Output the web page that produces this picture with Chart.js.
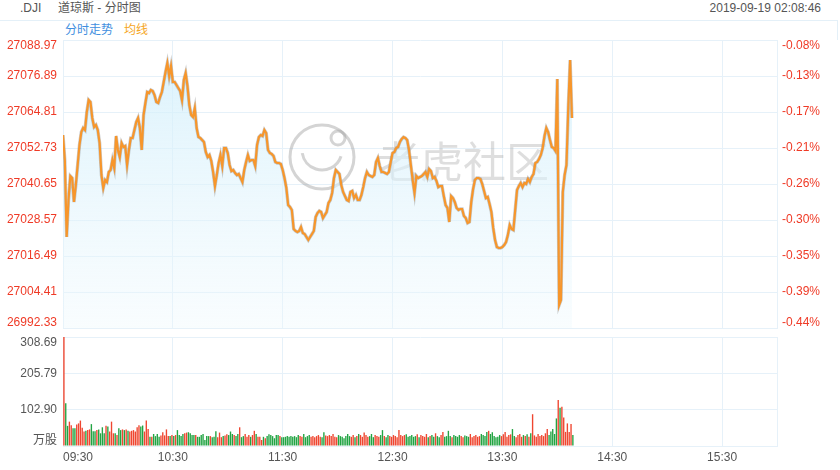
<!DOCTYPE html>
<html>
<head>
<meta charset="utf-8">
<title>.DJI 道琼斯 - 分时图</title>
<script src="https://cdn.jsdelivr.net/npm/chart.js@4.4.0/dist/chart.umd.min.js"></script>
<style>
  body { margin: 0; background: #fff; font-family: "Liberation Sans", Arial, "Noto Sans CJK SC", sans-serif; }
  #wrap { position: relative; width: 840px; height: 470px; overflow: hidden; }
  .t { position: absolute; font-size: 12px; line-height: 14px; color: #555; white-space: nowrap; }
  #legendBox { position: absolute; left: 0; top: 20px; width: 838px; height: 20px;
    border-top: 1px solid #e4f0f8; border-right: 1px solid #e4f0f8; box-sizing: border-box; }
  #priceBox { position: absolute; left: 0; top: 0; }
  #volBox { position: absolute; left: 0; top: 332px; }
</style>
</head>
<body>
<div id="wrap">
  <div class="t" style="left:20px;top:1px">.DJI</div>
  <div class="t" style="left:58px;top:1px">道琼斯 - 分时图</div>
  <div class="t" style="right:19px;top:1px">2019-09-19 02:08:46</div>
  <div id="legendBox"></div>
  <div class="t" style="left:65px;top:23px;color:#3f8fe0">分时走势</div>
  <div class="t" style="left:124px;top:23px;color:#f5a623">均线</div>
  <div id="priceBox"><canvas id="price" width="840" height="332"></canvas></div>
  <div id="volBox"><canvas id="vol" width="840" height="138"></canvas></div>
</div>
<script>
// minute-by-minute index level from 09:30
const prices = [
  27057.09, 27048.70, 27022.87, 27035.28, 27043.33, 27042.66, 27034.61, 27040.31, 27047.03, 27053.74,
  27058.10, 27059.44, 27058.77, 27064.81, 27068.84, 27068.17, 27062.80, 27059.78, 27060.45, 27058.77,
  27054.41, 27043.67, 27039.31, 27041.99, 27041.32, 27044.68, 27045.35, 27048.70, 27046.02, 27056.76,
  27052.06, 27049.71, 27054.41, 27053.07, 27053.40, 27047.03, 27052.06, 27056.09, 27056.09, 27058.77,
  27061.45, 27062.80, 27059.44, 27052.06, 27063.80, 27067.83, 27071.52, 27071.19, 27072.19, 27071.86,
  27070.51, 27068.17, 27067.83, 27069.84, 27071.52, 27074.88, 27078.23, 27081.25, 27076.89, 27080.25,
  27074.88, 27074.88, 27073.87, 27072.86, 27071.86, 27068.84, 27075.55, 27077.90, 27073.53, 27067.16,
  27063.80, 27063.13, 27066.15, 27059.44, 27056.42, 27056.09, 27055.41, 27054.74, 27051.39, 27049.71,
  27050.38, 27048.37, 27044.68, 27039.98, 27043.67, 27047.70, 27050.38, 27046.69, 27052.73, 27052.73,
  27051.05, 27047.03, 27045.01, 27045.35, 27044.34, 27043.67, 27044.01, 27042.66, 27041.32, 27045.35,
  27048.03, 27050.38, 27048.37, 27048.70, 27048.70, 27046.69, 27053.74, 27056.42, 27057.09, 27056.76,
  27058.77, 27057.76, 27052.06, 27051.05, 27050.72, 27050.05, 27048.03, 27047.70, 27047.70, 27047.36,
  27045.35, 27042.66, 27039.31, 27033.60, 27032.93, 27031.93, 27025.55, 27024.88, 27024.54, 27024.88,
  27026.22, 27024.21, 27023.87, 27022.87, 27021.86, 27022.87, 27023.87, 27024.88, 27029.58, 27030.92,
  27031.59, 27031.25, 27029.24, 27030.25, 27031.25, 27034.27, 27035.28, 27037.63, 27042.66, 27045.35,
  27044.68, 27044.01, 27040.31, 27037.97, 27036.62, 27035.28, 27034.95, 27037.97, 27038.30, 27035.95,
  27036.96, 27035.28, 27035.28, 27036.96, 27039.64, 27042.66, 27044.68, 27043.67, 27043.33, 27043.00,
  27043.67, 27048.03, 27049.37, 27046.69, 27044.68, 27044.68, 27044.34, 27044.01, 27044.68, 27048.03,
  27051.05, 27051.39, 27052.73, 27053.07, 27054.74, 27055.75, 27056.42, 27056.09, 27055.41, 27052.06,
  27047.03, 27041.99, 27037.63, 27043.33, 27042.66, 27043.00, 27043.33, 27044.01, 27044.68, 27043.00,
  27045.68, 27045.01, 27042.66, 27043.00, 27041.66, 27039.64, 27039.98, 27039.98, 27036.62, 27033.60,
  27032.60, 27027.90, 27036.62, 27035.95, 27034.61, 27032.60, 27031.93, 27032.26, 27032.26, 27029.91,
  27029.24, 27027.56, 27027.90, 27034.61, 27038.97, 27041.99, 27042.66, 27042.66, 27042.33, 27040.65,
  27038.30, 27035.95, 27036.29, 27033.94, 27031.25, 27025.89, 27021.86, 27019.51, 27019.17, 27019.17,
  27019.51, 27020.18, 27021.19, 27023.54, 27026.89, 27025.55, 27025.21, 27031.93, 27038.64, 27039.98,
  27040.99, 27039.64, 27040.99, 27040.65, 27042.33, 27041.32, 27043.00, 27044.01, 27047.70, 27048.03,
  27049.04, 27050.38, 27052.73, 27056.76, 27059.44, 27058.10, 27055.41, 27053.07, 27052.73, 27051.72,
  27075.88, 27000.05, 27001.73, 27037.97, 27043.67, 27047.03, 27066.49, 27082.26, 27062.80
];

// volume per minute, 万股
const volumes = [
  308.69, 121, 57, 69, 59, 50, 50, 61, 64, 72,
  52, 41, 43, 45, 47, 62, 42, 42, 45, 47,
  36, 53, 36, 57, 55, 41, 69, 36, 36, 31,
  50, 45, 47, 45, 47, 43, 41, 43, 45, 41,
  53, 59, 55, 58, 41, 72, 48, 26, 26, 34,
  28, 34, 26, 30, 39, 30, 47, 28, 28, 31,
  28, 31, 45, 31, 28, 34, 36, 38, 39, 36,
  31, 31, 31, 26, 26, 31, 34, 17, 28, 28,
  28, 25, 26, 42, 25, 38, 25, 28, 30, 33,
  31, 41, 34, 31, 28, 34, 53, 25, 28, 34,
  26, 31, 26, 31, 43, 34, 26, 26, 17, 26,
  22, 28, 33, 31, 28, 22, 31, 31, 28, 25,
  25, 26, 28, 26, 28, 26, 28, 25, 31, 28,
  26, 34, 25, 28, 31, 26, 28, 25, 28, 31,
  26, 25, 39, 30, 28, 31, 28, 34, 26, 25,
  31, 28, 26, 22, 28, 34, 28, 26, 31, 25,
  28, 34, 31, 26, 38, 31, 26, 28, 34, 25,
  31, 28, 26, 31, 45, 28, 25, 31, 28, 26,
  31, 28, 25, 45, 31, 28, 31, 33, 26, 28,
  31, 26, 28, 33, 25, 31, 28, 26, 34, 25,
  28, 31, 26, 36, 28, 25, 31, 40, 26, 28,
  43, 28, 25, 31, 28, 26, 31, 28, 25, 30,
  28, 26, 34, 25, 28, 31, 26, 28, 34, 31,
  28, 40, 43, 34, 39, 28, 25, 26, 31, 28,
  33, 40, 26, 31, 33, 48, 28, 25, 31, 34,
  26, 31, 28, 33, 26, 36, 90, 30, 26, 34,
  28, 31, 28, 36, 48, 31, 41, 48, 34, 78,
  130, 108, 111, 81, 40, 64, 40, 62, 31
];

const priceTicks = [26992.33, 27004.41, 27016.49, 27028.57, 27040.65, 27052.73, 27064.81, 27076.89, 27088.97];
const priceLabels = ['26992.33', '27004.41', '27016.49', '27028.57', '27040.65', '27052.73', '27064.81', '27076.89', '27088.97'];
const pctLabels = ['-0.44%', '-0.39%', '-0.35%', '-0.30%', '-0.26%', '-0.21%', '-0.17%', '-0.13%', '-0.08%'];
const volTicks = [0, 102.90, 205.79, 308.69];
const volLabels = ['万股', '102.90', '205.79', '308.69'];
const timeTicks = [0, 60, 120, 180, 240, 300, 360, 390];
const timeLabels = ['09:30', '10:30', '11:30', '12:30', '13:30', '14:30', '15:30', ''];

const GRID = '#e6f1f9';
const RED = '#ef3a26';
const FONT = '"Liberation Sans", Arial, "Noto Sans CJK SC", sans-serif';

// draws y tick labels, first/last pulled inside the plot
const sideLabels = {
  id: 'sideLabels',
  afterDraw(chart, args, opts) {
    const ctx = chart.ctx;
    ctx.save();
    ctx.font = '12px ' + FONT;
    ctx.textBaseline = 'middle';
    opts.items.forEach(it => {
      const sc = chart.scales[it.axis];
      ctx.fillStyle = it.color;
      it.values.forEach((v, i) => {
        let y = sc.getPixelForValue(v);
        if (i === 0) y -= 5;
        if (i === it.values.length - 1) y += 6;
        if (it.side === 'left') {
          ctx.textAlign = 'right';
          ctx.fillText(it.labels[i], sc.right - 6, y);
        } else {
          ctx.textAlign = 'left';
          ctx.fillText(it.labels[i], sc.left + 5, y);
        }
      });
    });
    ctx.restore();
  }
};

const watermark = {
  id: 'watermark',
  beforeDatasetsDraw(chart) {
    const ctx = chart.ctx;
    ctx.save();
    ctx.strokeStyle = 'rgba(160,160,160,0.45)';
    ctx.lineWidth = 3;
    ctx.beginPath();
    ctx.arc(322, 157, 32, 0, Math.PI * 2);
    ctx.stroke();
    ctx.beginPath();
    ctx.arc(322, 150, 20, 0.1 * Math.PI, 0.95 * Math.PI);
    ctx.stroke();
    ctx.beginPath();
    ctx.arc(338, 138, 7, 0, Math.PI * 2);
    ctx.stroke();
    ctx.fillStyle = 'rgba(160,160,160,0.35)';
    ctx.font = '43px "Noto Sans CJK SC", sans-serif';
    ctx.textBaseline = 'middle';
    ctx.textAlign = 'left';
    ctx.fillText('老虎社区', 377, 162);
    ctx.restore();
  }
};

const pricePts = prices.map((p, i) => ({ x: i, y: p }));
// each bar covers its own minute
const volPts = volumes.map((v, i) => ({ x: i + 0.5, y: v }));
const volColors = prices.map((p, i) => (i === 0 || p >= prices[i - 1]) ? '#ef4630' : '#22a443');

const fillGrad = (c) => {
  const ca = c.chart.chartArea;
  if (!ca) return 'rgba(220,242,251,0.6)';
  const g = c.chart.ctx.createLinearGradient(0, ca.top, 0, ca.bottom);
  g.addColorStop(0, 'rgba(208,238,251,0.8)');
  g.addColorStop(1, 'rgba(236,248,253,0.35)');
  return g;
};

const setTicks = (vals) => (scale) => { scale.ticks = vals.map(v => ({ value: v })); };

new Chart(document.getElementById('price'), {
  type: 'line',
  data: {
    datasets: [
      { data: pricePts, borderColor: '#f7962b', borderWidth: 2.2, pointRadius: 0, tension: 0, fill: false, order: 0 },
      { data: pricePts, borderColor: 'rgba(120,120,120,0.38)', borderWidth: 3.4, pointRadius: 0, tension: 0,
        fill: 'start', backgroundColor: fillGrad, order: 1 }
    ]
  },
  options: {
    responsive: false,
    animation: false,
    layout: { padding: { top: 40, bottom: 4, left: 0, right: 0 } },
    plugins: {
      legend: { display: false },
      tooltip: { enabled: false },
      sideLabels: {
        items: [
          { axis: 'y', values: priceTicks, labels: priceLabels, color: RED, side: 'left' },
          { axis: 'y2', values: priceTicks, labels: pctLabels, color: RED, side: 'right' }
        ]
      }
    },
    scales: {
      x: {
        type: 'linear', min: 0, max: 390,
        afterBuildTicks: setTicks(timeTicks),
        afterFit: (s) => { s.height = 0; },
        ticks: { display: false },
        grid: { color: GRID, drawTicks: false, offset: false },
        border: { color: GRID }
      },
      y: {
        position: 'left', min: priceTicks[0], max: priceTicks[priceTicks.length - 1],
        afterBuildTicks: setTicks(priceTicks),
        afterFit: (s) => { s.width = 63; },
        ticks: { display: false },
        grid: { color: GRID, drawTicks: false },
        border: { color: GRID }
      },
      y2: {
        position: 'right', min: priceTicks[0], max: priceTicks[priceTicks.length - 1],
        afterBuildTicks: setTicks(priceTicks),
        afterFit: (s) => { s.width = 63; },
        ticks: { display: false },
        grid: { display: false },
        border: { color: GRID }
      }
    }
  },
  plugins: [watermark, sideLabels]
});

new Chart(document.getElementById('vol'), {
  type: 'bar',
  data: {
    datasets: [{ data: volPts, backgroundColor: volColors, barPercentage: 0.75, categoryPercentage: 1 }]
  },
  options: {
    responsive: false,
    animation: false,
    layout: { padding: { top: 5, bottom: 0, left: 0, right: 63 } },
    plugins: {
      legend: { display: false },
      tooltip: { enabled: false },
      sideLabels: {
        items: [{ axis: 'y', values: volTicks, labels: volLabels, color: '#555', side: 'left' }]
      }
    },
    scales: {
      x: {
        type: 'linear', min: 0, max: 390, offset: false,
        afterBuildTicks: setTicks(timeTicks),
        afterFit: (s) => { s.height = 24; },
        ticks: {
          autoSkip: false, maxRotation: 0, align: 'inner', padding: 4, color: '#555',
          font: { size: 12, family: FONT },
          callback: (v) => timeLabels[timeTicks.indexOf(v)]
        },
        grid: { color: GRID, drawTicks: false, offset: false },
        border: { color: GRID }
      },
      y: {
        position: 'left', min: 0, max: volTicks[volTicks.length - 1],
        afterBuildTicks: setTicks(volTicks),
        afterFit: (s) => { s.width = 63; },
        ticks: { display: false },
        grid: { color: GRID, drawTicks: false },
        border: { color: GRID }
      }
    }
  },
  plugins: [sideLabels]
});
</script>
</body>
</html>
